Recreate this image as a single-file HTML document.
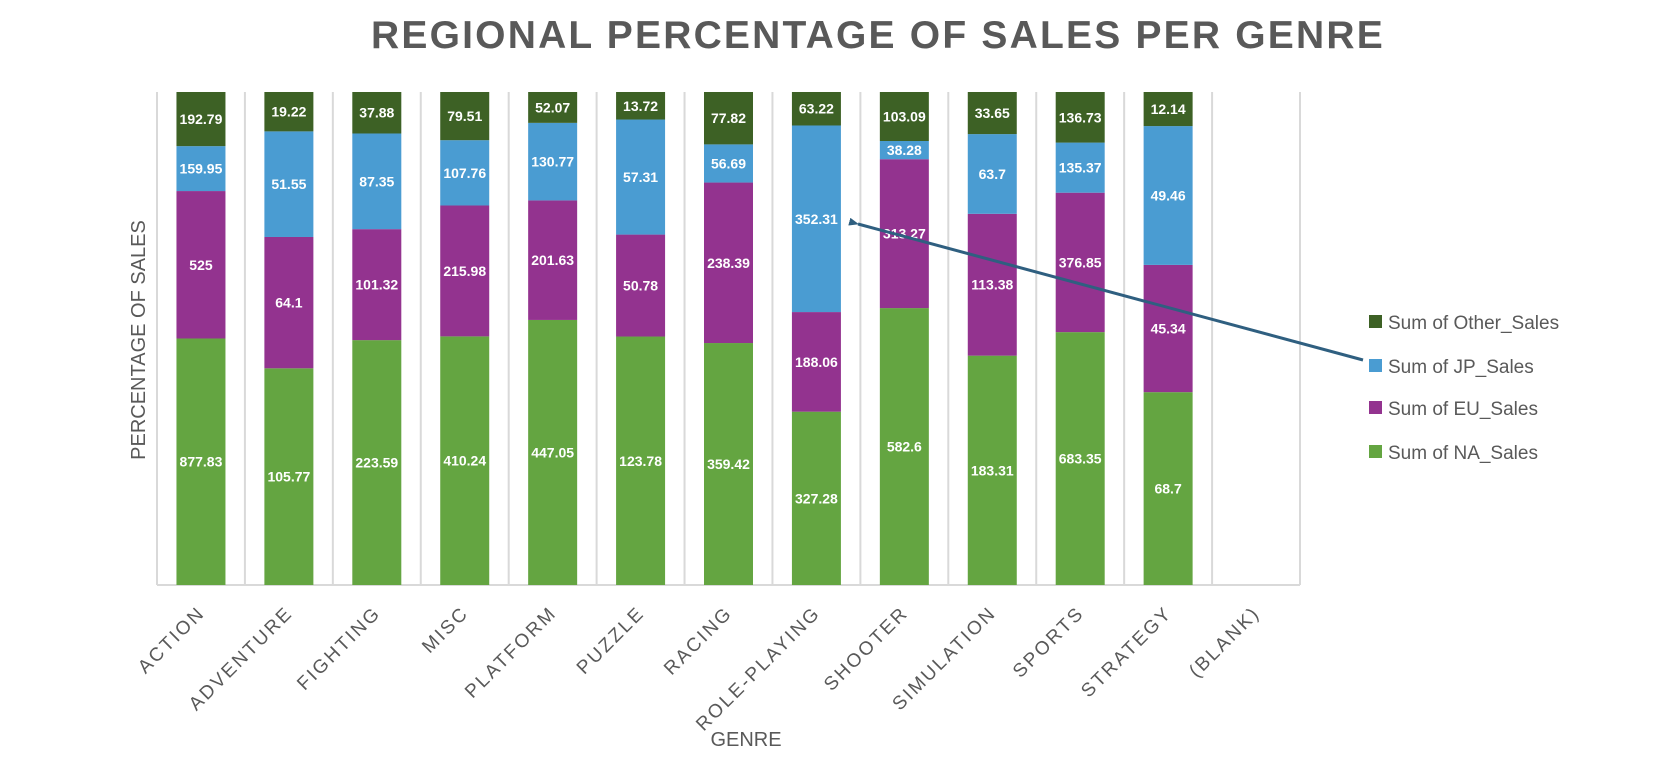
<!DOCTYPE html>
<html><head><meta charset="utf-8"><style>
body{margin:0;background:#fff;width:1660px;height:768px;overflow:hidden;font-family:"Liberation Sans",sans-serif}
</style></head><body>
<svg id="chart" width="1660" height="768" xmlns="http://www.w3.org/2000/svg" font-family="Liberation Sans, sans-serif">
<text x="878" y="48" text-anchor="middle" font-size="39" font-weight="bold" fill="#595959" letter-spacing="2.2">REGIONAL PERCENTAGE OF SALES PER GENRE</text>
<g id="grid"></g><g id="bars"></g><g id="xlabels"></g>
<text transform="translate(145,340) rotate(-90)" text-anchor="middle" font-size="20" fill="#595959">PERCENTAGE OF SALES</text>
<text x="746" y="746" text-anchor="middle" font-size="20" fill="#595959">GENRE</text>
<g id="legend"></g>
<defs><marker id="ah" markerWidth="10" markerHeight="8" refX="1" refY="4" orient="auto" markerUnits="userSpaceOnUse" viewBox="0 0 10 8"><path d="M10,0 L0,4 L10,8 Z" fill="#2f5f80"/></marker></defs>
<line x1="1363" y1="360" x2="858" y2="224" stroke="#2f5f80" stroke-width="3" marker-end="url(#ah)"/>
</svg>
<script>
const categories=["ACTION","ADVENTURE","FIGHTING","MISC","PLATFORM","PUZZLE","RACING","ROLE-PLAYING","SHOOTER","SIMULATION","SPORTS","STRATEGY","(BLANK)"];
const naSales=[877.83,105.77,223.59,410.24,447.05,123.78,359.42,327.28,582.6,183.31,683.35,68.7,0];
const euSales=[525,64.1,101.32,215.98,201.63,50.78,238.39,188.06,313.27,113.38,376.85,45.34,0];
const jpSales=[159.95,51.55,87.35,107.76,130.77,57.31,56.69,352.31,38.28,63.7,135.37,49.46,0];
const otherSales=[192.79,19.22,37.88,79.51,52.07,13.72,77.82,63.22,103.09,33.65,136.73,12.14,0];
const seriesNames=["Sum of NA_Sales","Sum of EU_Sales","Sum of JP_Sales","Sum of Other_Sales"];
const NS="http://www.w3.org/2000/svg";
const colors=["#64a541","#93338f","#4a9cd2","#3d6125"];
const L=157,R=1300,T=92,B=585,n=categories.length,cw=(R-L)/n,bw=49;
const xC=i=>L+cw*(i+0.5);
const yP=p=>B-(B-T)*p;
function mk(tag,attrs,parent){const e=document.createElementNS(NS,tag);for(const k in attrs)e.setAttribute(k,attrs[k]);parent.appendChild(e);return e;}
const grid=document.getElementById('grid'),bars=document.getElementById('bars'),xl=document.getElementById('xlabels'),lg=document.getElementById('legend');
for(let i=0;i<=n;i++){const x=L+cw*i;const l=mk('line',{x1:x,x2:x,y1:T,y2:B,stroke:'#d9d9d9','stroke-width':2},grid);

}
const ax=mk('line',{x1:L,x2:R,y1:B,y2:B,stroke:'#d9d9d9','stroke-width':2},grid);


const all=[naSales,euSales,jpSales,otherSales];
categories.forEach((c,i)=>{
  const tot=all.reduce((s,a)=>s+a[i],0);
  let cum=0;
  if(tot>0) all.forEach((arr,k)=>{
    const v=arr[i];const p0=cum/tot,p1=(cum+v)/tot;cum+=v;
    const y1=yP(p1),y0=yP(p0);
    const r=mk('rect',{x:xC(i)-bw/2,y:y1,width:bw,height:y0-y1,fill:colors[k]},bars);
    
    
    const t=mk('text',{x:xC(i),y:(y0+y1)/2+5,'text-anchor':'middle','font-size':14,'font-weight':'bold',fill:'#fff'},bars);
    t.textContent=String(v);
    
    
  });
  const xt=mk('text',{transform:`translate(${xC(i)+5},614) rotate(-45)`,'text-anchor':'end','font-size':19,fill:'#595959','letter-spacing':2.3},xl);
  xt.textContent=c;
  
  
});
const ly=[452,408,366,322];
seriesNames.forEach((s,k)=>{
  const g=mk('g',{},lg);
  
  
  mk('rect',{x:1369,y:ly[k]-7,width:13,height:13,fill:colors[k]},g);
  const t=mk('text',{x:1388,y:ly[k]+7,'font-size':19,fill:'#595959'},g);
  t.textContent=s;
});
</script>
</body></html>
